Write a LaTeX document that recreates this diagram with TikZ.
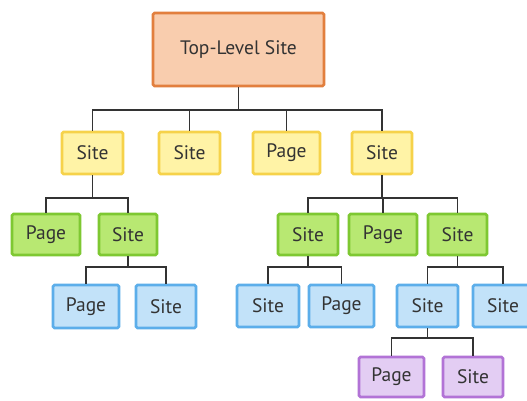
\documentclass[tikz,border=0pt]{standalone}
\usepackage{fontspec}
\setmainfont{PT Sans}
\definecolor{orfill}{HTML}{F9CDAE}
\definecolor{ordraw}{HTML}{E27F3E}
\definecolor{yefill}{HTML}{FFF3A6}
\definecolor{yedraw}{HTML}{F6D24A}
\definecolor{grfill}{HTML}{B8E872}
\definecolor{grdraw}{HTML}{7EC832}
\definecolor{blfill}{HTML}{C2E2F9}
\definecolor{bldraw}{HTML}{5CAEEA}
\definecolor{pufill}{HTML}{E3CDF3}
\definecolor{pudraw}{HTML}{B273D6}
\definecolor{txt}{HTML}{333333}
\definecolor{linec}{HTML}{333333}
\tikzset{
  box/.style={draw, line width=2.6pt, rounded corners=1.5pt, inner sep=0pt,
    minimum height=42pt, text=txt, font=\fontsize{19.5}{21}\selectfont},
  topbox/.style={box, fill=orfill, draw=ordraw, minimum width=171pt, minimum height=73pt},
  yebox/.style={box, fill=yefill, draw=yedraw},
  grbox/.style={box, fill=grfill, draw=grdraw},
  blbox/.style={box, fill=blfill, draw=bldraw},
  pubox/.style={box, fill=pufill, draw=pudraw, minimum height=40pt},
  conn/.style={draw=linec, line width=1.2pt},
}
\begin{document}
\begin{tikzpicture}[x=1pt,y=-1pt]
\useasboundingbox (0,0) rectangle (527,400);
\clip (0,0) rectangle (527,400);
\fill[white] (0,0) rectangle (527,400);
% bar levels
\coordinate (b1) at (0,110);
\coordinate (b2) at (0,198);
\coordinate (b3) at (0,267);
\coordinate (b4) at (0,338);
% nodes
\node[topbox] (top) at (238.5,49.5) {Top-Level Site};
\node[yebox, minimum width=61pt] (s1) at (92.5,153) {Site};
\node[yebox, minimum width=61pt] (s2) at (189.5,153) {Site};
\node[yebox, minimum width=67pt] (p1) at (286.5,153) {Page};
\node[yebox, minimum width=60pt] (s4) at (382,153) {Site};
\node[grbox, minimum width=68pt, minimum height=41pt] (pA) at (46,234.5) {Page};
\node[grbox, minimum width=58pt, minimum height=41pt] (sA) at (128,234.5) {Site};
\node[grbox, minimum width=60pt, minimum height=41pt] (sB) at (308,234.5) {Site};
\node[grbox, minimum width=68pt, minimum height=41pt] (pB) at (383,234.5) {Page};
\node[grbox, minimum width=59pt, minimum height=41pt] (sC) at (457.5,234.5) {Site};
\node[blbox, minimum width=66pt, minimum height=43pt] (pC) at (86,306.5) {Page};
\node[blbox, minimum width=60pt, minimum height=43pt] (sD) at (166,306.5) {Site};
\node[blbox, minimum width=62pt] (sE) at (268,306) {Site};
\node[blbox, minimum width=65pt] (pD) at (341.5,306) {Page};
\node[blbox, minimum width=61pt] (sF) at (427.5,306) {Site};
\node[blbox, minimum width=60pt] (sG) at (503,306) {Site};
\node[pubox, minimum width=65pt] (pE) at (391.5,377) {Page};
\node[pubox, minimum width=60pt] (sH) at (473,377) {Site};
% connectors
\foreach \c in {s1,s2,p1,s4}
  \draw[conn] (top.south) -- (top.south |- b1) -| (\c.north);
\foreach \c in {pA,sA}
  \draw[conn] (s1.south) -- (s1.south |- b2) -| (\c.north);
\foreach \c in {sB,pB,sC}
  \draw[conn] (s4.south) -- (s4.south |- b2) -| (\c.north);
\foreach \c in {pC,sD}
  \draw[conn] (sA.south) -- (sA.south |- b3) -| (\c.north);
\foreach \c in {sE,pD}
  \draw[conn] (sB.south) -- (sB.south |- b3) -| (\c.north);
\foreach \c in {sF,sG}
  \draw[conn] (sC.south) -- (sC.south |- b3) -| (\c.north);
\foreach \c in {pE,sH}
  \draw[conn] (sF.south) -- (sF.south |- b4) -| (\c.north);
\end{tikzpicture}
\end{document}
